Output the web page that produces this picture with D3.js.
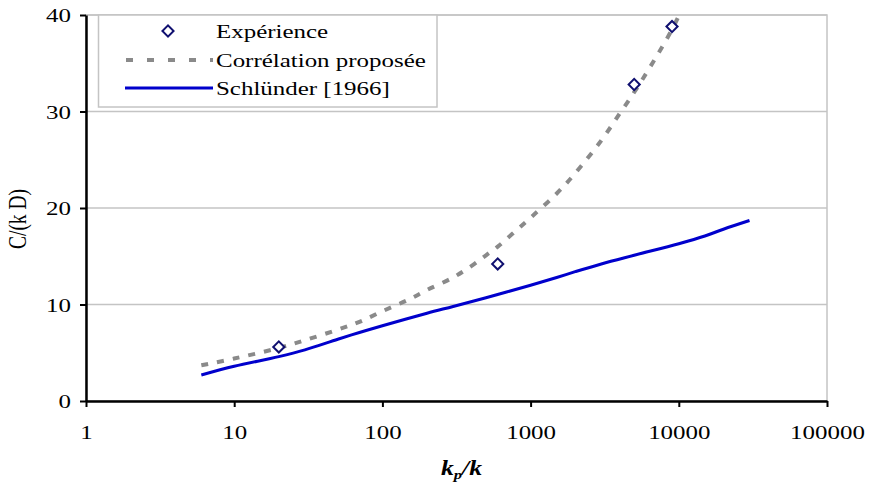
<!DOCTYPE html>
<html><head><meta charset="utf-8">
<script src="https://cdn.jsdelivr.net/npm/d3@7/dist/d3.min.js"></script>
<style>body{margin:0;background:#fff}svg{display:block}text{font-family:"Liberation Serif","Times New Roman",serif;fill:#000}</style>
</head><body>
<svg id="c" width="869" height="482"></svg>
<script>
const xTicks = [1, 10, 100, 1000, 10000, 100000];
const xTickLabels = ["1", "10", "100", "1000", "10000", "100000"];
const yTicks = [0, 10, 20, 30, 40];
const yTickLabels = ["0", "10", "20", "30", "40"];

const expX = [20, 600, 5000, 9000];
const expY = [5.6, 14.2, 32.8, 38.8];

const corrX = [6, 10, 20, 30, 50, 70, 100, 150, 200, 300, 400, 500, 600, 750, 1000, 1500, 2000, 3000, 4000, 5000, 6000, 7000, 8000, 9000, 10000];
const corrY = [3.7, 4.4, 5.5, 6.3, 7.4, 8.2, 9.3, 10.5, 11.5, 12.8, 14.0, 15.1, 16.0, 17.3, 19.0, 21.5, 23.6, 27.0, 29.8, 32.0, 33.9, 35.6, 37.1, 38.5, 39.9];

const schX = [6, 10, 20, 30, 50, 70, 100, 200, 300, 500, 1000, 1500, 2000, 3000, 5000, 10000, 15000, 20000, 30000];
const schY = [2.7, 3.6, 4.6, 5.3, 6.4, 7.1, 7.8, 9.1, 9.8, 10.7, 12.0, 12.8, 13.4, 14.2, 15.1, 16.3, 17.1, 17.8, 18.7];

const legendLabels = ["Expérience", "Corrélation proposée", "Schlünder [1966]"];
const xTitle = ["k", "p", "/k"];
const yTitle = "C/(k D)";

const SX = 1.28; // horizontal stretch of text seen in the reference
const svg = d3.select("#c");
const L = 86, R = 827, T = 15, B = 401;
const x = d3.scaleLog().domain([1, 100000]).range([L, R]);
const y = d3.scaleLinear().domain([0, 40]).range([B, T]);

// plot frame
svg.append("rect").attr("x", L).attr("y", T).attr("width", R - L).attr("height", B - T)
  .attr("fill", "#fff").attr("stroke", "#c4c4c4").attr("stroke-width", 1.5);

// gridlines
svg.append("g").selectAll("line").data(yTicks.filter(d => d > 0)).join("line")
  .attr("x1", L).attr("x2", R).attr("y1", d => y(d)).attr("y2", d => y(d))
  .attr("stroke", "#c4c4c4").attr("stroke-width", 1.5);

// x axis
const gx = svg.append("g").attr("transform", `translate(0,${B})`)
  .call(d3.axisBottom(x).tickValues(xTicks).tickFormat(() => "").tickSize(6).tickSizeOuter(0));
gx.select(".domain").attr("stroke", "#000").attr("stroke-width", 2.5);
gx.selectAll(".tick line").attr("stroke", "#000").attr("stroke-width", 2);
gx.selectAll(".tick").append("text")
  .attr("transform", `translate(0,38) scale(${SX},1)`).attr("text-anchor", "middle")
  .style("font-size", "19.5px").text((d, i) => xTickLabels[i]);

// y axis
const gy = svg.append("g").attr("transform", `translate(${L},0)`)
  .call(d3.axisLeft(y).tickValues(yTicks).tickFormat(() => "").tickSize(6).tickSizeOuter(0));
gy.select(".domain").attr("stroke", "#000").attr("stroke-width", 2.5);
gy.selectAll(".tick line").attr("stroke", "#000").attr("stroke-width", 2);
gy.selectAll(".tick").append("text")
  .attr("transform", `translate(-15,6.5) scale(${SX},1)`).attr("text-anchor", "end")
  .style("font-size", "19.5px").text((d, i) => yTickLabels[i]);

// axis titles
svg.append("text").attr("transform", `translate(26,219) scale(${SX},1) rotate(-90)`)
  .attr("text-anchor", "middle").style("font-size", "19.5px").text(yTitle);
const xt = svg.append("text").attr("transform", `translate(441,475) scale(${SX},1)`)
  .style("font-size", "20px").style("font-weight", "bold").style("font-style", "italic");
xt.append("tspan").text(xTitle[0]);
xt.append("tspan").attr("dy", 4).style("font-size", "13px").text(xTitle[1]);
xt.append("tspan").attr("dy", -4).text(xTitle[2]);

// series
const line = d3.line().x(d => x(d[0])).y(d => y(d[1])).curve(d3.curveCatmullRom.alpha(0.5));
svg.append("path").datum(schX.map((v, i) => [v, schY[i]])).attr("d", line)
  .attr("fill", "none").attr("stroke", "#0000cc").attr("stroke-width", 3);
svg.append("path").datum(corrX.map((v, i) => [v, corrY[i]])).attr("d", line)
  .attr("fill", "none").attr("stroke", "#8a8a8a").attr("stroke-width", 4).attr("stroke-dasharray", "7,9");
const diamondPath = d3.symbol().type(d3.symbolSquare).size(62)();
svg.append("g").selectAll("path").data(expX.map((v, i) => [v, expY[i]])).join("path")
  .attr("d", diamondPath)
  .attr("transform", d => `translate(${x(d[0])},${y(d[1])}) rotate(45)`)
  .attr("fill", "#fff").attr("stroke", "#101070").attr("stroke-width", 2);

// legend
const lg = svg.append("g");
lg.append("rect").attr("x", 98.5).attr("y", 15).attr("width", 338.5).attr("height", 92)
  .attr("fill", "#fff").attr("stroke", "#c4c4c4").attr("stroke-width", 1.5);
const rows = [31, 60, 88];
lg.append("path").attr("d", diamondPath)
  .attr("transform", `translate(168,${rows[0]}) rotate(45)`)
  .attr("fill", "#fff").attr("stroke", "#101070").attr("stroke-width", 2);
lg.append("line").attr("x1", 126).attr("x2", 213).attr("y1", rows[1]).attr("y2", rows[1])
  .attr("stroke", "#8a8a8a").attr("stroke-width", 4).attr("stroke-dasharray", "7,14");
lg.append("line").attr("x1", 125).attr("x2", 213).attr("y1", rows[2]).attr("y2", rows[2])
  .attr("stroke", "#0000cc").attr("stroke-width", 3);
lg.selectAll("text.l").data(legendLabels).join("text").attr("class", "l")
  .attr("transform", (d, i) => `translate(216,${rows[i] + 7}) scale(${SX},1)`)
  .style("font-size", "19.5px").text(d => d);
</script>
</body></html>
